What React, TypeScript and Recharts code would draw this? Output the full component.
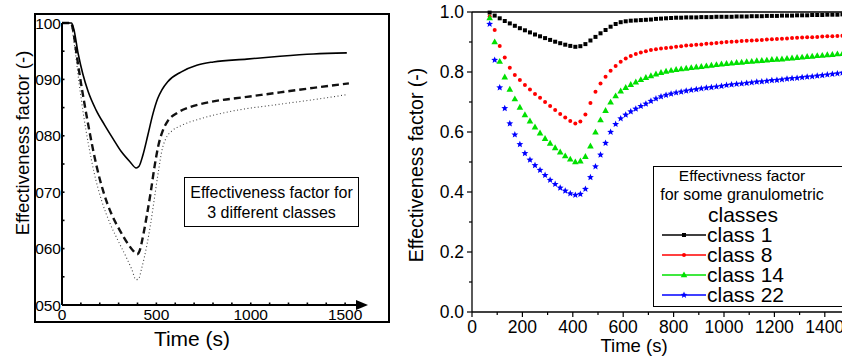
import React from 'react';
import { LineChart, Line, XAxis, YAxis, ReferenceLine, ReferenceDot } from 'recharts';

const FONT = '"Liberation Sans", Arial, Helvetica, sans-serif';

// ---------- left panel: 3 classes (time in s, factor) ----------
const solidTime = [0, 50, 62, 86, 110, 139, 180, 226, 270, 314, 360, 393, 408, 428, 454, 481, 507, 530, 560, 630, 714, 802, 979, 1155, 1332, 1509];
const solidValue = [1.0, 1.0, 0.99, 0.945, 0.91, 0.878, 0.846, 0.819, 0.795, 0.772, 0.754, 0.743, 0.746, 0.765, 0.8, 0.838, 0.866, 0.882, 0.896, 0.913, 0.925, 0.931, 0.936, 0.941, 0.945, 0.947];

const dashedTime = [0, 48, 60, 75, 95, 120, 150, 184, 220, 260, 307, 350, 380, 398, 412, 431, 450, 470, 490, 510, 535, 560, 608, 678, 731, 802, 979, 1155, 1332, 1520];
const dashedValue = [1.0, 1.0, 0.985, 0.95, 0.905, 0.855, 0.8, 0.745, 0.7, 0.663, 0.632, 0.608, 0.595, 0.59, 0.597, 0.625, 0.66, 0.7, 0.745, 0.782, 0.81, 0.826, 0.84, 0.851, 0.856, 0.861, 0.869, 0.877, 0.885, 0.893];

const dottedTime = [0, 48, 58, 70, 90, 115, 140, 170, 210, 254, 300, 340, 370, 392, 405, 422, 449, 470, 490, 510, 530, 550, 580, 630, 731, 890, 1155, 1332, 1510];
const dottedValue = [1.0, 1.0, 0.98, 0.95, 0.895, 0.835, 0.785, 0.735, 0.685, 0.645, 0.612, 0.585, 0.563, 0.545, 0.546, 0.565, 0.605, 0.645, 0.69, 0.735, 0.775, 0.795, 0.808, 0.818, 0.83, 0.843, 0.856, 0.864, 0.873];

const leftXTicks = [0, 100, 200, 300, 400, 500, 600, 700, 800, 900, 1000, 1100, 1200, 1300, 1400, 1500];
const leftXMajor = [0, 500, 1000, 1500];
const leftYTicks = [0.5, 0.55, 0.6, 0.65, 0.7, 0.75, 0.8, 0.85, 0.9, 0.95, 1.0];
const leftYMajor = [0.5, 0.6, 0.7, 0.8, 0.9, 1.0];
const leftYLabels = ['050', '060', '070', '080', '090', '100'];

// ---------- right panel: granulometric classes ----------
const rightTime = [70, 90, 110, 130, 150, 170, 190, 210, 230, 250, 270, 290, 310, 330, 350, 370, 390, 410,
  430, 450, 470, 490, 510, 530, 550, 570, 590, 610, 630, 650, 670, 690,
  710, 730, 750, 770, 790, 810, 830, 850, 870, 890, 910, 930, 950, 970, 990, 1010, 1030, 1050, 1070, 1090,
  1110, 1130, 1150, 1170, 1190, 1210, 1230, 1250, 1270, 1290, 1310, 1330, 1350, 1370, 1390, 1410, 1430, 1450, 1470, 1490];

const class1 = [0.998, 0.988, 0.979, 0.970, 0.962, 0.954, 0.946, 0.939, 0.932, 0.925, 0.919, 0.913, 0.907, 0.901, 0.896, 0.891, 0.887, 0.884,
  0.886, 0.893, 0.905, 0.917, 0.929, 0.940, 0.951, 0.960, 0.966, 0.969, 0.971, 0.972, 0.973, 0.974,
  0.975, 0.977, 0.978, 0.979, 0.980, 0.981, 0.981, 0.982, 0.982, 0.982, 0.983, 0.983, 0.983, 0.984, 0.984, 0.984, 0.984, 0.985, 0.985, 0.985,
  0.986, 0.986, 0.986, 0.987, 0.987, 0.987, 0.988, 0.988, 0.988, 0.989, 0.989, 0.989, 0.990, 0.990, 0.990, 0.991, 0.991, 0.991, 0.992, 0.992];

const class8 = [0.985, 0.940, 0.887, 0.848, 0.814, 0.790, 0.773, 0.757, 0.742, 0.727, 0.714, 0.700, 0.687, 0.673, 0.660, 0.648, 0.637, 0.628,
  0.635, 0.658, 0.697, 0.734, 0.762, 0.784, 0.804, 0.820, 0.834, 0.845, 0.853, 0.860, 0.865, 0.869,
  0.873, 0.876, 0.878, 0.880, 0.882, 0.884, 0.886, 0.888, 0.889, 0.891, 0.892, 0.894, 0.895, 0.897, 0.898, 0.900, 0.901, 0.902, 0.903, 0.904,
  0.905, 0.906, 0.907, 0.908, 0.909, 0.910, 0.911, 0.912, 0.913, 0.914, 0.915, 0.916, 0.916, 0.917, 0.918, 0.919, 0.919, 0.920, 0.921, 0.921];

const class14 = [0.980, 0.900, 0.835, 0.783, 0.742, 0.710, 0.682, 0.657, 0.636, 0.616, 0.596, 0.578, 0.562, 0.547, 0.533, 0.520, 0.509, 0.500,
  0.503, 0.518, 0.553, 0.599, 0.640, 0.671, 0.699, 0.720, 0.736, 0.748, 0.758, 0.766, 0.774, 0.781,
  0.787, 0.793, 0.798, 0.802, 0.805, 0.808, 0.810, 0.812, 0.814, 0.816, 0.818, 0.820, 0.822, 0.824, 0.826, 0.828, 0.829, 0.831, 0.832, 0.834,
  0.835, 0.837, 0.838, 0.839, 0.841, 0.842, 0.843, 0.845, 0.846, 0.848, 0.849, 0.851, 0.852, 0.854, 0.855, 0.857, 0.858, 0.860, 0.861, 0.863];

const class22 = [0.960, 0.840, 0.748, 0.679, 0.628, 0.591, 0.559, 0.529, 0.507, 0.489, 0.473, 0.456, 0.440, 0.426, 0.414, 0.404, 0.395, 0.390,
  0.393, 0.410, 0.449, 0.485, 0.524, 0.563, 0.600, 0.626, 0.645, 0.657, 0.668, 0.677, 0.686, 0.694,
  0.703, 0.711, 0.718, 0.723, 0.727, 0.731, 0.734, 0.737, 0.740, 0.742, 0.745, 0.747, 0.749, 0.751, 0.753, 0.756, 0.758, 0.760, 0.761, 0.763,
  0.765, 0.767, 0.768, 0.770, 0.772, 0.773, 0.775, 0.777, 0.779, 0.780, 0.782, 0.784, 0.785, 0.787, 0.789, 0.791, 0.793, 0.795, 0.797, 0.799];

const seriesKeys = ['c1', 'c8', 'c14', 'c22'];
const seriesNames = ['class 1', 'class 8', 'class 14', 'class 22'];
const seriesColors = ['#000000', '#ff0000', '#00e000', '#0000ff'];
const seriesMarkers = ['square', 'circle', 'triangle', 'star'];

const rightXTicks = [0, 100, 200, 300, 400, 500, 600, 700, 800, 900, 1000, 1100, 1200, 1300, 1400, 1500];
const rightXMajor = [0, 200, 400, 600, 800, 1000, 1200, 1400];
const rightYTicks = [0, 0.1, 0.2, 0.3, 0.4, 0.5, 0.6, 0.7, 0.8, 0.9, 1.0];
const rightYMajor = [0, 0.2, 0.4, 0.6, 0.8, 1.0];
const rightYLabels = ['0.0', '0.2', '0.4', '0.6', '0.8', '1.0'];

const toRows = (ts: number[], vs: number[]) => ts.map((t, i) => ({ t, v: vs[i] }));
const solidRows = toRows(solidTime, solidValue);
const dashedRows = toRows(dashedTime, dashedValue);
const dottedRows = toRows(dottedTime, dottedValue);

const rightRows = rightTime.map((t, i) => ({ t, c1: class1[i], c8: class8[i], c14: class14[i], c22: class22[i] }));

const near = (list: number[], v: number) => list.findIndex((m) => Math.abs(m - v) < 1e-6);

function Marker({ kind, cx, cy, color }: { kind: string; cx: number; cy: number; color: string }) {
  if (cx == null || cy == null) return null;
  if (kind === 'square') return <rect x={cx - 2} y={cy - 2} width={4} height={4} fill={color} />;
  if (kind === 'circle') return <circle cx={cx} cy={cy} r={2} fill={color} />;
  if (kind === 'triangle')
    return <polygon points={`${cx},${cy - 3.6} ${cx + 3.3},${cy + 2.3} ${cx - 3.3},${cy + 2.3}`} fill={color} />;
  const pts: string[] = [];
  for (let k = 0; k < 10; k++) {
    const r = k % 2 === 0 ? 3.6 : 1.6;
    const a = -Math.PI / 2 + (k * Math.PI) / 5;
    pts.push(`${cx + r * Math.cos(a)},${cy + r * Math.sin(a)}`);
  }
  return <polygon points={pts.join(' ')} fill={color} />;
}

function LeftXTick(props: any) {
  const { x, y, payload } = props;
  const major = leftXMajor.includes(payload.value);
  return (
    <g>
      <line x1={x} x2={x} y1={y} y2={y - 2.5} stroke="#000" strokeWidth={1.6} />
      {major && (
        <text x={x} y={y + 15} textAnchor="middle" fontSize={15.5} fontFamily={FONT} fill="#000">
          {payload.value}
        </text>
      )}
    </g>
  );
}

function LeftYTick(props: any) {
  const { x, y, payload } = props;
  const i = near(leftYMajor, payload.value);
  return (
    <g>
      <line x1={x} x2={x + 2.5} y1={y} y2={y} stroke="#000" strokeWidth={1.6} />
      {i >= 0 && (
        <text x={x - 1} y={y + 5.5} textAnchor="end" fontSize={15.5} fontFamily={FONT} fill="#000">
          {leftYLabels[i]}
        </text>
      )}
    </g>
  );
}

function RightXTick(props: any) {
  const { x, y, payload } = props;
  const major = rightXMajor.includes(payload.value);
  return (
    <g>
      <line x1={x} x2={x} y1={y} y2={y + (major ? 5 : 3)} stroke="#000" strokeWidth={1.2} />
      {major && (
        <text x={x} y={y + 21} textAnchor="middle" fontSize={17.5} fontFamily={FONT} fill="#000">
          {payload.value}
        </text>
      )}
    </g>
  );
}

function RightYTick(props: any) {
  const { x, y, payload } = props;
  const i = near(rightYMajor, payload.value);
  return (
    <g>
      <line x1={x} x2={x - (i >= 0 ? 5 : 3)} y1={y} y2={y} stroke="#000" strokeWidth={1.2} />
      {i >= 0 && (
        <text x={x - 8} y={y + 6} textAnchor="end" fontSize={17.5} fontFamily={FONT} fill="#000">
          {rightYLabels[i]}
        </text>
      )}
    </g>
  );
}

const Arrow = (p: any) => (
  <polygon points={`${p.cx + 4},${p.cy} ${p.cx - 8},${p.cy - 5} ${p.cx - 8},${p.cy + 5}`} fill="#000" />
);

function Txt({ x, y, size, rotate, children }: { x: number; y: number; size: number; rotate?: number; children: React.ReactNode }) {
  return (
    <div
      style={{
        position: 'absolute',
        left: x,
        top: y,
        transform: `translate(-50%, -50%)${rotate ? ` rotate(${rotate}deg)` : ''}`,
        fontSize: size,
        lineHeight: 0.9,
        whiteSpace: 'nowrap',
        fontFamily: FONT,
        color: '#000',
      }}
    >
      {children}
    </div>
  );
}

function LegendSample({ i }: { i: number }) {
  return (
    <svg width={44} height={12} style={{ position: 'absolute', left: 9, top: -6 }}>
      <line x1={0} x2={44} y1={6} y2={6} stroke={seriesColors[i]} strokeWidth={1.5} />
      <Marker kind={seriesMarkers[i]} cx={22} cy={6} color={seriesColors[i]} />
    </svg>
  );
}

export default function App() {
  return (
    <div style={{ position: 'fixed', left: 0, top: 0, width: 842, height: 357, overflow: 'hidden', background: '#fff', fontFamily: FONT }}>
      {/* left panel */}
      <div style={{ position: 'absolute', left: 34, top: 13, width: 352, height: 306, border: '2px solid #000' }} />
      <div style={{ position: 'absolute', left: 0, top: 0 }}>
        <LineChart width={420} height={357} margin={{ top: 23, right: 56, bottom: 22, left: 32 }}>
          <XAxis
            dataKey="t"
            type="number"
            domain={[0, 1600]}
            ticks={leftXTicks}
            interval={0}
            tick={LeftXTick}
            tickLine={false}
            tickSize={0}
            tickMargin={0}
            height={30}
            axisLine={{ stroke: '#000', strokeWidth: 2 }}
          />
          <YAxis
            type="number"
            domain={[0.5, 1]}
            ticks={leftYTicks}
            interval={0}
            tick={LeftYTick}
            tickLine={false}
            tickSize={0}
            tickMargin={0}
            width={30}
            axisLine={{ stroke: '#000', strokeWidth: 2 }}
          />
          <Line data={dottedRows} dataKey="v" type="monotone" stroke="#444" strokeWidth={1.1} strokeDasharray="1 2.5" dot={false} isAnimationActive={false} />
          <Line data={dashedRows} dataKey="v" type="monotone" stroke="#111" strokeWidth={2.4} strokeDasharray="7 4" dot={false} isAnimationActive={false} />
          <Line data={solidRows} dataKey="v" type="monotone" stroke="#000" strokeWidth={1.6} dot={false} isAnimationActive={false} />
          <ReferenceDot x={1600} y={0.5} r={0} ifOverflow="visible" shape={Arrow} />
        </LineChart>
      </div>
      <div
        style={{
          position: 'absolute',
          left: 184,
          top: 177,
          width: 175,
          height: 50,
          border: '1.5px solid #000',
          background: '#fff',
          fontSize: 16,
          lineHeight: '20px',
          textAlign: 'center',
          paddingTop: 5,
          boxSizing: 'border-box',
        }}
      >
        Effectiveness factor for
        <br />
        3 different classes
      </div>
      <Txt x={23} y={143} size={18.5} rotate={-90}>Effectiveness factor (-)</Txt>
      <Txt x={192} y={339} size={21}>Time (s)</Txt>

      {/* right panel */}
      <div style={{ position: 'absolute', left: 420, top: 0 }}>
        <LineChart width={460} height={357} data={rightRows} margin={{ top: 12, right: 30, bottom: 15, left: 22 }}>
          <XAxis
            dataKey="t"
            type="number"
            domain={[0, 1500]}
            ticks={rightXTicks}
            interval={0}
            tick={RightXTick}
            tickLine={false}
            tickSize={0}
            tickMargin={0}
            height={30}
            axisLine={{ stroke: '#000', strokeWidth: 1.3 }}
          />
          <YAxis
            type="number"
            domain={[0, 1]}
            ticks={rightYTicks}
            interval={0}
            tick={RightYTick}
            tickLine={false}
            tickSize={0}
            tickMargin={0}
            width={30}
            axisLine={{ stroke: '#000', strokeWidth: 1.3 }}
          />
          <ReferenceLine y={1} stroke="#000" strokeWidth={1.3} />
          {seriesKeys.map((k, i) => (
            <Line
              key={k}
              dataKey={k}
              name={seriesNames[i]}
              stroke="none"
              isAnimationActive={false}
              dot={(p: any) => <Marker key={`${k}-${p.index}`} kind={seriesMarkers[i]} cx={p.cx} cy={p.cy} color={seriesColors[i]} />}
              activeDot={false}
            />
          ))}
        </LineChart>
      </div>
      <Txt x={417} y={165} size={19.5} rotate={-90}>Effectiveness factor (-)</Txt>
      <Txt x={634} y={346} size={18.5}>Time (s)</Txt>

      {/* legend */}
      <div style={{ position: 'absolute', left: 653, top: 166, width: 220, height: 139, border: '1.5px solid #000', background: '#fff' }} />
      <Txt x={742} y={176} size={15.5}>Effectivness factor</Txt>
      <Txt x={742} y={195} size={16}>for some granulometric</Txt>
      <Txt x={743} y={215} size={21}>classes</Txt>
      {seriesNames.map((n, i) => (
        <div key={n} style={{ position: 'absolute', left: 653, top: 235 + i * 20, height: 0 }}>
          <LegendSample i={i} />
          <div style={{ position: 'absolute', left: 54, top: -9, fontSize: 21, lineHeight: '18px', whiteSpace: 'nowrap', fontFamily: FONT }}>{n}</div>
        </div>
      ))}
    </div>
  );
}
